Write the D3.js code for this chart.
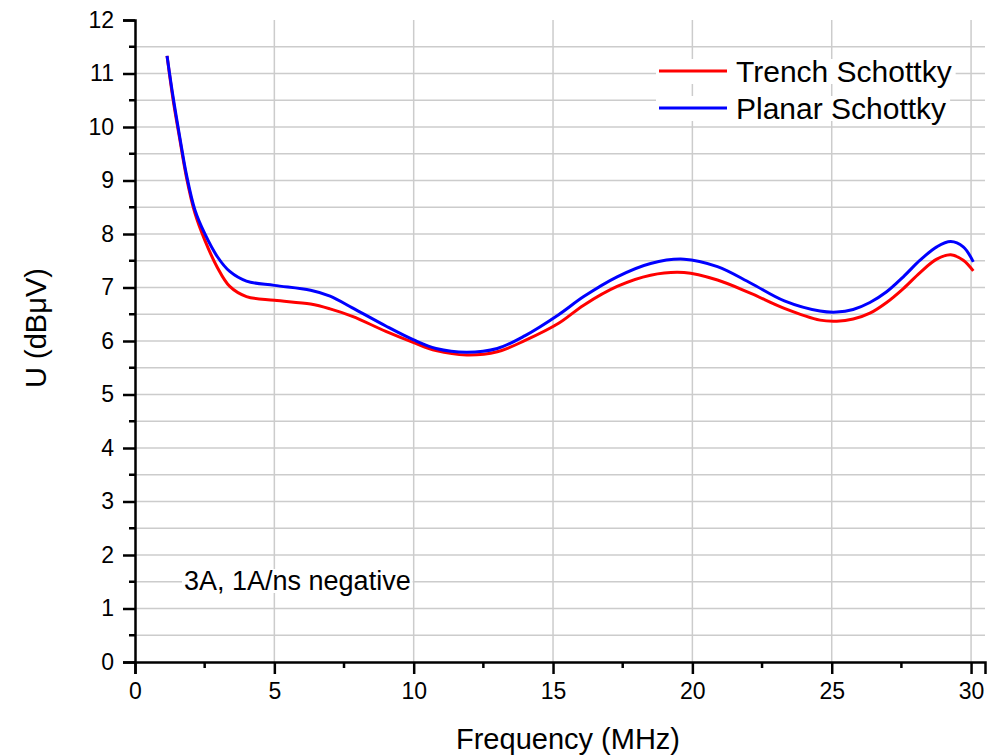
<!DOCTYPE html>
<html><head><meta charset="utf-8">
<script src="https://cdn.jsdelivr.net/npm/d3@7"></script>
<style>body{margin:0;background:#fff}svg{display:block}text{font-family:"Liberation Sans",Arial,sans-serif}</style>
</head><body>
<svg id="c" width="989" height="756"></svg>
<script>
const freq = [1.15,1.37,1.61,1.85,2.15,2.5,2.95,3.4,4.0,5.0,6.3,7.0,7.8,9.0,10.0,10.8,11.9,13.0,14.0,15.2,16.1,17.3,18.5,19.7,20.9,22.1,23.3,24.58,25.18,25.77,26.37,26.97,27.57,28.17,28.77,29.27,29.72,30.08];
const trench = [11.33,10.5,9.76,9.05,8.39,7.89,7.38,7.02,6.83,6.76,6.69,6.6,6.46,6.18,5.97,5.82,5.74,5.8,6.01,6.33,6.67,7.02,7.23,7.28,7.14,6.89,6.61,6.39,6.37,6.41,6.52,6.72,6.98,7.28,7.53,7.61,7.51,7.31];
const planar = [11.33,10.55,9.8,9.1,8.45,8.01,7.58,7.3,7.12,7.04,6.95,6.84,6.62,6.28,6.02,5.86,5.79,5.86,6.1,6.49,6.83,7.2,7.45,7.53,7.39,7.08,6.75,6.56,6.54,6.59,6.72,6.92,7.2,7.51,7.76,7.86,7.76,7.48];
const seriesNames = ["Trench Schottky","Planar Schottky"];
const seriesColors = ["#ff0000","#0000ff"];
const xTicks = [0,5,10,15,20,25,30];
const yTicks = [0,1,2,3,4,5,6,7,8,9,10,11,12];

const svg = d3.select("#c");
const x = d3.scaleLinear().domain([0,30.5]).range([135,985]);
const y = d3.scaleLinear().domain([0,12]).range([662,20]);

// grid
const g = svg.append("g");
d3.range(0.5,12,0.5).forEach(v=>{
  g.append("line").attr("x1",x(0)).attr("x2",x(30.5)).attr("y1",y(v)).attr("y2",y(v))
   .attr("stroke","#cccccc").attr("stroke-width",1.5);
});
xTicks.slice(1).forEach(v=>{
  g.append("line").attr("x1",x(v)).attr("x2",x(v)).attr("y1",y(0)).attr("y2",y(12))
   .attr("stroke","#cccccc").attr("stroke-width",1.5);
});

// annotation
const ann = svg.append("text").attr("x",184).attr("y",590).attr("font-size",27).text("3A, 1A/ns negative");
const bb = ann.node().getBBox();
svg.insert("rect","text").attr("x",bb.x-2).attr("y",bb.y+3).attr("width",bb.width+4).attr("height",bb.height-6).attr("fill","#fff");

// lines
const line = d3.line().x(d=>x(d[0])).y(d=>y(d[1])).curve(d3.curveCatmullRom.alpha(0.5));
[trench,planar].forEach((s,i)=>{
  svg.append("path").datum(freq.map((f,j)=>[f,s[j]])).attr("d",line)
   .attr("fill","none").attr("stroke",seriesColors[i]).attr("stroke-width",3);
});

// axes
const xAxis = d3.axisBottom(x).tickValues(xTicks).tickSize(12).tickPadding(9).tickFormat(d3.format("d"));
const xa = svg.append("g").attr("transform",`translate(0,${y(0)})`).call(xAxis);
const yAxis = d3.axisLeft(y).tickValues(yTicks).tickSize(12).tickPadding(9).tickFormat(d3.format("d"));
const ya = svg.append("g").attr("transform",`translate(${x(0)},0)`).call(yAxis);
[xa,ya].forEach(a=>{
  a.select(".domain").attr("stroke","#000").attr("stroke-width",2.5);
  a.selectAll(".tick line").attr("stroke","#000").attr("stroke-width",2.5);
  a.selectAll(".tick text").attr("font-size",23).attr("fill","#000").attr("font-family","Liberation Sans, Arial, sans-serif");
});
// minor ticks
d3.range(2.5,30,5).forEach(v=>{
  svg.append("line").attr("x1",x(v)).attr("x2",x(v)).attr("y1",y(0)).attr("y2",y(0)+6).attr("stroke","#000").attr("stroke-width",2.5);
});
d3.range(0.5,12,1).forEach(v=>{
  svg.append("line").attr("x1",x(0)).attr("x2",x(0)-6).attr("y1",y(v)).attr("y2",y(v)).attr("stroke","#000").attr("stroke-width",2.5);
});

// axis titles
svg.append("text").attr("x",568).attr("y",749).attr("text-anchor","middle").attr("font-size",29).text("Frequency (MHz)");
svg.append("text").attr("transform","translate(46,328) rotate(-90)").attr("text-anchor","middle").attr("font-size",29).text("U (dBμV)");

// legend
seriesNames.forEach((n,i)=>{
  const yy = 71 + i*37;
  const t = svg.append("text").attr("x",736).attr("y",yy+11).attr("font-size",30).text(n);
  const b = t.node().getBBox();
  svg.insert("rect","text").attr("x",656).attr("y",b.y+4).attr("width",b.x+b.width-656+4).attr("height",b.height-8).attr("fill","#fff");
  svg.append("line").attr("x1",659).attr("x2",727).attr("y1",yy).attr("y2",yy).attr("stroke",seriesColors[i]).attr("stroke-width",3);
});
</script>
</body></html>
